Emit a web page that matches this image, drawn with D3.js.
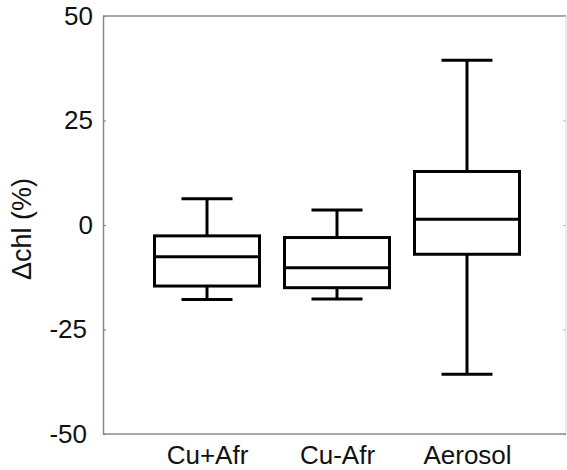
<!DOCTYPE html>
<html><head><meta charset="utf-8">
<script src="https://cdn.jsdelivr.net/npm/d3@7"></script>
<style>body{margin:0;background:#fff}</style>
</head><body>
<svg id="c" width="567" height="470"></svg>
<script>
const categories = ["Cu+Afr", "Cu-Afr", "Aerosol"];
const whiskerLow = [-17.8, -17.7, -35.7];
const q1 = [-14.6, -15.0, -7.0];
const median = [-7.6, -10.2, 1.4];
const q3 = [-2.6, -3.0, 12.8];
const whiskerHigh = [6.3, 3.6, 39.4];
const yTicks = [-50, -25, 0, 25, 50];
const yLabel = "\u0394chl (%)";

const svg = d3.select("#c");
const L = 103, R = 566, T = 16, B = 434;
const y = d3.scaleLinear().domain([-50, 50]).range([B, T]);
const x = d3.scalePoint().domain(categories).range([L + 104, R - 99]);
const boxW = 105, capW = 51;
const font = "Liberation Sans, Arial, sans-serif";

// frame
svg.append("line").attr("x1", R).attr("x2", R).attr("y1", T).attr("y2", B).attr("stroke", "#e6e6e6").attr("stroke-width", 1.5);
svg.append("line").attr("x1", L).attr("x2", R).attr("y1", T).attr("y2", T).attr("stroke", "#8a8a8a").attr("stroke-width", 1.5);

// y axis
const yAxis = svg.append("g").attr("transform", `translate(${L},0)`)
  .call(d3.axisLeft(y).tickValues(yTicks).tickSizeInner(-3).tickSizeOuter(0).tickPadding(10).tickFormat(d => String(d)));
yAxis.select(".domain").attr("stroke", "#8a8a8a").attr("stroke-width", 1.5);
yAxis.selectAll(".tick line").attr("stroke", "#8a8a8a").attr("stroke-width", 1.2);
yAxis.selectAll(".tick text").attr("font-family", font).attr("font-size", 26).attr("fill", "#111")
  .attr("x", d => d < 0 ? -16 : -10);

// right ticks
svg.append("g").attr("transform", `translate(${R},0)`)
  .call(d3.axisRight(y).tickValues(yTicks).tickSizeInner(-3).tickSizeOuter(0).tickFormat(""))
  .call(g => g.select(".domain").remove())
  .call(g => g.selectAll(".tick line").attr("stroke", "#bbb").attr("stroke-width", 1));

// x axis
const xAxis = svg.append("g").attr("transform", `translate(0,${B})`)
  .call(d3.axisBottom(x).tickSize(0).tickPadding(12));
xAxis.select(".domain").attr("stroke", "#8a8a8a").attr("stroke-width", 1.5).attr("d", `M${L},0H${R}`);
xAxis.selectAll(".tick text").attr("font-family", font).attr("font-size", 26).attr("fill", "#111");

// y label
svg.append("text").attr("transform", `translate(31,${(T+B)/2 + 4}) rotate(-90)`)
  .attr("text-anchor", "middle").attr("font-family", font).attr("font-size", 27).attr("fill", "#111")
  .text(yLabel);

// boxes
const data = categories.map((c, i) => ({c, lo: whiskerLow[i], q1: q1[i], med: median[i], q3: q3[i], hi: whiskerHigh[i]}));
const g = svg.append("g").attr("stroke", "#000").attr("stroke-width", 3).attr("fill", "none");
const bx = g.selectAll("g.box").data(data).join("g");
bx.append("line").attr("x1", d => x(d.c)).attr("x2", d => x(d.c)).attr("y1", d => y(d.hi)).attr("y2", d => y(d.q3));
bx.append("line").attr("x1", d => x(d.c)).attr("x2", d => x(d.c)).attr("y1", d => y(d.q1)).attr("y2", d => y(d.lo));
bx.append("line").attr("x1", d => x(d.c) - capW/2).attr("x2", d => x(d.c) + capW/2).attr("y1", d => y(d.hi)).attr("y2", d => y(d.hi));
bx.append("line").attr("x1", d => x(d.c) - capW/2).attr("x2", d => x(d.c) + capW/2).attr("y1", d => y(d.lo)).attr("y2", d => y(d.lo));
bx.append("rect").attr("x", d => x(d.c) - boxW/2).attr("width", boxW)
  .attr("y", d => y(d.q3)).attr("height", d => y(d.q1) - y(d.q3));
bx.append("line").attr("x1", d => x(d.c) - boxW/2).attr("x2", d => x(d.c) + boxW/2).attr("y1", d => y(d.med)).attr("y2", d => y(d.med));
</script>
</body></html>
